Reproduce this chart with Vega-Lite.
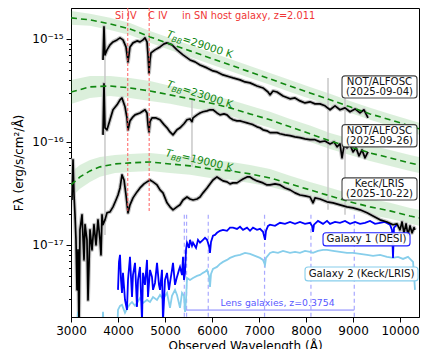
{
"$schema": "https://vega.github.io/schema/vega-lite/v6.json",
"width": 348, "height": 309,
"autosize": {"type": "none"},
"padding": {"left": 71, "top": 8, "right": 2, "bottom": 32},
"background": "white",
"config": {
  "view": {"stroke": "black", "strokeWidth": 1},
  "font": "DejaVu Sans",
  "axis": {"grid": false, "domainColor": "black", "tickColor": "black", "labelColor": "black", "titleColor": "black", "labelFont": "DejaVu Sans", "titleFont": "DejaVu Sans", "titleFontWeight": "normal", "labelFontSize": 12, "titleFontSize": 12}
},
"datasets": {
  "band": [
    {"T":"29000","lam":3000,"f":1.37e-15,"f2":1.87e-15},{"T":"29000","lam":3404,"f":1.34e-15,"f2":1.75e-15},{"T":"29000","lam":3830,"f":1.22e-15,"f2":1.60e-15},{"T":"29000","lam":4255,"f":1.09e-15,"f2":1.43e-15},{"T":"29000","lam":4681,"f":9.15e-16,"f2":1.196e-15},{"T":"29000","lam":5106,"f":7.82e-16,"f2":1.02e-15},{"T":"29000","lam":5532,"f":6.69e-16,"f2":8.74e-16},{"T":"29000","lam":5957,"f":5.72e-16,"f2":7.48e-16},{"T":"29000","lam":6383,"f":4.89e-16,"f2":6.39e-16},{"T":"29000","lam":6809,"f":4.18e-16,"f2":5.46e-16},{"T":"29000","lam":7234,"f":3.58e-16,"f2":4.67e-16},{"T":"29000","lam":7660,"f":3.05e-16,"f2":3.99e-16},{"T":"29000","lam":8085,"f":2.62e-16,"f2":3.42e-16},{"T":"29000","lam":8511,"f":2.24e-16,"f2":2.93e-16},{"T":"29000","lam":8936,"f":1.92e-16,"f2":2.50e-16},{"T":"29000","lam":9362,"f":1.64e-16,"f2":2.14e-16},{"T":"29000","lam":9787,"f":1.43e-16,"f2":1.87e-16},{"T":"29000","lam":10213,"f":1.25e-16,"f2":1.63e-16},{"T":"29000","lam":10404,"f":1.17e-16,"f2":1.53e-16},
    {"T":"23000","lam":3000,"f":2.33e-16,"f2":3.99e-16},{"T":"23000","lam":3404,"f":2.67e-16,"f2":4.37e-16},{"T":"23000","lam":3830,"f":2.79e-16,"f2":4.36e-16},{"T":"23000","lam":4255,"f":2.67e-16,"f2":4.18e-16},{"T":"23000","lam":4681,"f":2.50e-16,"f2":3.90e-16},{"T":"23000","lam":5106,"f":2.34e-16,"f2":3.50e-16},{"T":"23000","lam":5532,"f":2.14e-16,"f2":3.20e-16},{"T":"23000","lam":5957,"f":2.00e-16,"f2":2.86e-16},{"T":"23000","lam":6383,"f":1.79e-16,"f2":2.56e-16},{"T":"23000","lam":6809,"f":1.56e-16,"f2":2.24e-16},{"T":"23000","lam":7234,"f":1.37e-16,"f2":1.96e-16},{"T":"23000","lam":7660,"f":1.17e-16,"f2":1.67e-16},{"T":"23000","lam":8085,"f":1.00e-16,"f2":1.44e-16},{"T":"23000","lam":8511,"f":8.53e-17,"f2":1.22e-16},{"T":"23000","lam":8936,"f":7.47e-17,"f2":1.07e-16},{"T":"23000","lam":9362,"f":6.54e-17,"f2":9.35e-17},{"T":"23000","lam":9787,"f":5.84e-17,"f2":8.36e-17},{"T":"23000","lam":10213,"f":5.23e-17,"f2":7.48e-17},{"T":"23000","lam":10404,"f":5.00e-17,"f2":7.15e-17},
    {"T":"19000","lam":3000,"f":2.86e-17,"f2":5.11e-17},{"T":"19000","lam":3191,"f":3.50e-17,"f2":5.97e-17},{"T":"19000","lam":3404,"f":4.09e-17,"f2":6.69e-17},{"T":"19000","lam":3617,"f":4.58e-17,"f2":7.15e-17},{"T":"19000","lam":3936,"f":5.00e-17,"f2":7.47e-17},{"T":"19000","lam":4255,"f":5.11e-17,"f2":7.64e-17},{"T":"19000","lam":4681,"f":5.23e-17,"f2":7.81e-17},{"T":"19000","lam":5106,"f":5.00e-17,"f2":7.47e-17},{"T":"19000","lam":5532,"f":4.79e-17,"f2":7.15e-17},{"T":"19000","lam":5957,"f":4.47e-17,"f2":6.69e-17},{"T":"19000","lam":6383,"f":4.28e-17,"f2":6.40e-17},{"T":"19000","lam":6809,"f":4.00e-17,"f2":5.98e-17},{"T":"19000","lam":7234,"f":3.66e-17,"f2":5.47e-17},{"T":"19000","lam":7660,"f":3.27e-17,"f2":4.68e-17},{"T":"19000","lam":8085,"f":2.86e-17,"f2":4.09e-17},{"T":"19000","lam":8511,"f":2.50e-17,"f2":3.58e-17},{"T":"19000","lam":8936,"f":2.19e-17,"f2":3.13e-17},{"T":"19000","lam":9362,"f":1.96e-17,"f2":2.80e-17},{"T":"19000","lam":9787,"f":1.79e-17,"f2":2.56e-17},{"T":"19000","lam":10213,"f":1.60e-17,"f2":2.28e-17},{"T":"19000","lam":10404,"f":1.53e-17,"f2":2.19e-17}
  ],
  "bb": [
    {"T":"29000","lam":3000,"f":1.60e-15},{"T":"29000","lam":3404,"f":1.529e-15},{"T":"29000","lam":3830,"f":1.398e-15},{"T":"29000","lam":4255,"f":1.25e-15},{"T":"29000","lam":4681,"f":1.046e-15},{"T":"29000","lam":5106,"f":8.94e-16},{"T":"29000","lam":5532,"f":7.65e-16},{"T":"29000","lam":5957,"f":6.54e-16},{"T":"29000","lam":6383,"f":5.59e-16},{"T":"29000","lam":6809,"f":4.78e-16},{"T":"29000","lam":7234,"f":4.09e-16},{"T":"29000","lam":7660,"f":3.49e-16},{"T":"29000","lam":8085,"f":2.99e-16},{"T":"29000","lam":8511,"f":2.56e-16},{"T":"29000","lam":8936,"f":2.19e-16},{"T":"29000","lam":9362,"f":1.87e-16},{"T":"29000","lam":9787,"f":1.64e-16},{"T":"29000","lam":10213,"f":1.43e-16},{"T":"29000","lam":10404,"f":1.34e-16},
    {"T":"23000","lam":3000,"f":3.05e-16},{"T":"23000","lam":3404,"f":3.42e-16},{"T":"23000","lam":3830,"f":3.49e-16},{"T":"23000","lam":4255,"f":3.34e-16},{"T":"23000","lam":4681,"f":3.12e-16},{"T":"23000","lam":5106,"f":2.86e-16},{"T":"23000","lam":5532,"f":2.62e-16},{"T":"23000","lam":5957,"f":2.39e-16},{"T":"23000","lam":6383,"f":2.14e-16},{"T":"23000","lam":6809,"f":1.87e-16},{"T":"23000","lam":7234,"f":1.64e-16},{"T":"23000","lam":7660,"f":1.40e-16},{"T":"23000","lam":8085,"f":1.20e-16},{"T":"23000","lam":8511,"f":1.02e-16},{"T":"23000","lam":8936,"f":8.94e-17},{"T":"23000","lam":9362,"f":7.82e-17},{"T":"23000","lam":9787,"f":6.99e-17},{"T":"23000","lam":10213,"f":6.25e-17},{"T":"23000","lam":10404,"f":5.98e-17},
    {"T":"19000","lam":3000,"f":3.82e-17},{"T":"19000","lam":3191,"f":4.57e-17},{"T":"19000","lam":3404,"f":5.23e-17},{"T":"19000","lam":3617,"f":5.72e-17},{"T":"19000","lam":3936,"f":6.11e-17},{"T":"19000","lam":4255,"f":6.25e-17},{"T":"19000","lam":4681,"f":6.39e-17},{"T":"19000","lam":5106,"f":6.11e-17},{"T":"19000","lam":5532,"f":5.85e-17},{"T":"19000","lam":5957,"f":5.47e-17},{"T":"19000","lam":6383,"f":5.23e-17},{"T":"19000","lam":6809,"f":4.89e-17},{"T":"19000","lam":7234,"f":4.47e-17},{"T":"19000","lam":7660,"f":3.91e-17},{"T":"19000","lam":8085,"f":3.42e-17},{"T":"19000","lam":8511,"f":2.99e-17},{"T":"19000","lam":8936,"f":2.62e-17},{"T":"19000","lam":9362,"f":2.34e-17},{"T":"19000","lam":9787,"f":2.14e-17},{"T":"19000","lam":10213,"f":1.91e-17},{"T":"19000","lam":10404,"f":1.83e-17}
  ],
  "spec": [
    {"s":"a","lam":3681,"f":6.25e-16},{"s":"a","lam":3702,"f":1.307e-15},{"s":"a","lam":3723,"f":6.99e-16},{"s":"a","lam":3766,"f":7.82e-16},{"s":"a","lam":3830,"f":8.75e-16},{"s":"a","lam":3894,"f":9.35e-16},{"s":"a","lam":3979,"f":9.78e-16},{"s":"a","lam":4043,"f":1.023e-15},{"s":"a","lam":4106,"f":9.78e-16},{"s":"a","lam":4170,"f":8.36e-16},{"s":"a","lam":4213,"f":5.98e-16},{"s":"a","lam":4255,"f":8.36e-16},{"s":"a","lam":4319,"f":9.15e-16},{"s":"a","lam":4404,"f":9.56e-16},{"s":"a","lam":4468,"f":9.35e-16},{"s":"a","lam":4532,"f":9.78e-16},{"s":"a","lam":4574,"f":1.023e-15},{"s":"a","lam":4617,"f":9.35e-16},{"s":"a","lam":4638,"f":6.99e-16},{"s":"a","lam":4660,"f":4.67e-16},{"s":"a","lam":4681,"f":6.25e-16},{"s":"a","lam":4702,"f":7.31e-16},{"s":"a","lam":4787,"f":7.82e-16},{"s":"a","lam":4894,"f":8.36e-16},{"s":"a","lam":4979,"f":8.94e-16},{"s":"a","lam":5043,"f":9.15e-16},{"s":"a","lam":5149,"f":8.75e-16},{"s":"a","lam":5255,"f":7.82e-16},{"s":"a","lam":5383,"f":6.99e-16},{"s":"a","lam":5532,"f":6.25e-16},{"s":"a","lam":5639,"f":5.98e-16},{"s":"a","lam":5745,"f":5.59e-16},{"s":"a","lam":5894,"f":5.23e-16},{"s":"a","lam":6021,"f":4.89e-16},{"s":"a","lam":6106,"f":4.78e-16},{"s":"a","lam":6234,"f":4.47e-16},{"s":"a","lam":6383,"f":4.27e-16},{"s":"a","lam":6447,"f":4.18e-16},{"s":"a","lam":6596,"f":4.00e-16},{"s":"a","lam":6702,"f":3.82e-16},{"s":"a","lam":6809,"f":3.74e-16},{"s":"a","lam":6958,"f":3.49e-16},{"s":"a","lam":7085,"f":3.34e-16},{"s":"a","lam":7192,"f":3.05e-16},{"s":"a","lam":7234,"f":2.86e-16},{"s":"a","lam":7298,"f":3.12e-16},{"s":"a","lam":7383,"f":3.05e-16},{"s":"a","lam":7511,"f":2.79e-16},{"s":"a","lam":7660,"f":2.62e-16},{"s":"a","lam":7766,"f":2.67e-16},{"s":"a","lam":7872,"f":2.50e-16},{"s":"a","lam":7979,"f":2.39e-16},{"s":"a","lam":8085,"f":2.45e-16},{"s":"a","lam":8192,"f":2.34e-16},{"s":"a","lam":8298,"f":2.34e-16},{"s":"a","lam":8404,"f":2.24e-16},{"s":"a","lam":8511,"f":2.05e-16},{"s":"a","lam":8617,"f":2.24e-16},{"s":"a","lam":8723,"f":2.05e-16},{"s":"a","lam":8830,"f":2.14e-16},{"s":"a","lam":8936,"f":1.96e-16},{"s":"a","lam":9043,"f":2.09e-16},{"s":"a","lam":9149,"f":1.91e-16},{"s":"a","lam":9234,"f":2.05e-16},{"s":"a","lam":9319,"f":1.71e-16},
    {"s":"b","lam":3681,"f":1.17e-16},{"s":"b","lam":3702,"f":3.66e-16},{"s":"b","lam":3723,"f":1.37e-16},{"s":"b","lam":3766,"f":1.31e-16},{"s":"b","lam":3830,"f":1.64e-16},{"s":"b","lam":3894,"f":2.05e-16},{"s":"b","lam":3979,"f":2.29e-16},{"s":"b","lam":4043,"f":2.56e-16},{"s":"b","lam":4085,"f":2.67e-16},{"s":"b","lam":4149,"f":2.19e-16},{"s":"b","lam":4191,"f":1.71e-16},{"s":"b","lam":4213,"f":1.31e-16},{"s":"b","lam":4255,"f":1.60e-16},{"s":"b","lam":4319,"f":1.75e-16},{"s":"b","lam":4362,"f":1.83e-16},{"s":"b","lam":4468,"f":1.91e-16},{"s":"b","lam":4574,"f":2.05e-16},{"s":"b","lam":4617,"f":1.91e-16},{"s":"b","lam":4638,"f":1.47e-16},{"s":"b","lam":4660,"f":1.25e-16},{"s":"b","lam":4681,"f":1.57e-16},{"s":"b","lam":4723,"f":1.71e-16},{"s":"b","lam":4809,"f":1.71e-16},{"s":"b","lam":4894,"f":1.64e-16},{"s":"b","lam":4979,"f":1.47e-16},{"s":"b","lam":5043,"f":1.37e-16},{"s":"b","lam":5106,"f":1.25e-16},{"s":"b","lam":5170,"f":1.17e-16},{"s":"b","lam":5255,"f":1.31e-16},{"s":"b","lam":5319,"f":1.37e-16},{"s":"b","lam":5404,"f":1.50e-16},{"s":"b","lam":5468,"f":1.64e-16},{"s":"b","lam":5532,"f":1.67e-16},{"s":"b","lam":5574,"f":1.57e-16},{"s":"b","lam":5596,"f":1.71e-16},{"s":"b","lam":5681,"f":1.83e-16},{"s":"b","lam":5745,"f":1.91e-16},{"s":"b","lam":5809,"f":1.96e-16},{"s":"b","lam":5894,"f":2.00e-16},{"s":"b","lam":5957,"f":2.05e-16},{"s":"b","lam":6021,"f":2.05e-16},{"s":"b","lam":6106,"f":1.91e-16},{"s":"b","lam":6170,"f":1.83e-16},{"s":"b","lam":6255,"f":1.87e-16},{"s":"b","lam":6319,"f":1.83e-16},{"s":"b","lam":6383,"f":1.71e-16},{"s":"b","lam":6447,"f":1.64e-16},{"s":"b","lam":6532,"f":1.60e-16},{"s":"b","lam":6596,"f":1.60e-16},{"s":"b","lam":6660,"f":1.57e-16},{"s":"b","lam":6745,"f":1.53e-16},{"s":"b","lam":6809,"f":1.50e-16},{"s":"b","lam":6872,"f":1.47e-16},{"s":"b","lam":6958,"f":1.40e-16},{"s":"b","lam":7021,"f":1.37e-16},{"s":"b","lam":7085,"f":1.31e-16},{"s":"b","lam":7170,"f":1.28e-16},{"s":"b","lam":7234,"f":1.23e-16},{"s":"b","lam":7298,"f":1.23e-16},{"s":"b","lam":7383,"f":1.23e-16},{"s":"b","lam":7447,"f":1.20e-16},{"s":"b","lam":7553,"f":1.17e-16},{"s":"b","lam":7660,"f":1.15e-16},{"s":"b","lam":7766,"f":1.12e-16},{"s":"b","lam":7872,"f":1.10e-16},{"s":"b","lam":7979,"f":1.07e-16},{"s":"b","lam":8085,"f":1.05e-16},{"s":"b","lam":8192,"f":1.05e-16},{"s":"b","lam":8298,"f":1.00e-16},{"s":"b","lam":8404,"f":1.02e-16},{"s":"b","lam":8511,"f":9.56e-17},{"s":"b","lam":8596,"f":1.00e-16},{"s":"b","lam":8660,"f":8.94e-17},{"s":"b","lam":8723,"f":9.56e-17},{"s":"b","lam":8766,"f":6.99e-17},{"s":"b","lam":8809,"f":9.15e-17},{"s":"b","lam":8872,"f":8.75e-17},{"s":"b","lam":8936,"f":9.35e-17},{"s":"b","lam":9000,"f":8.00e-17},{"s":"b","lam":9064,"f":8.75e-17},{"s":"b","lam":9128,"f":7.31e-17},{"s":"b","lam":9192,"f":8.36e-17},{"s":"b","lam":9255,"f":6.99e-17},{"s":"b","lam":9319,"f":8.00e-17},
    {"s":"c","lam":3021,"f":2.73e-17},{"s":"c","lam":3043,"f":6.69e-17},{"s":"c","lam":3064,"f":3.05e-17},{"s":"c","lam":3085,"f":1.96e-17},{"s":"c","lam":3106,"f":1.12e-17},{"s":"c","lam":3128,"f":3.66e-18},{"s":"c","lam":3149,"f":8.94e-18},{"s":"c","lam":3170,"f":1.5e-18},{"s":"c","lam":3191,"f":1.40e-17},{"s":"c","lam":3234,"f":1.96e-17},{"s":"c","lam":3277,"f":7.15e-18},{"s":"c","lam":3298,"f":1.57e-17},{"s":"c","lam":3340,"f":1.12e-17},{"s":"c","lam":3362,"f":2.92e-18},{"s":"c","lam":3404,"f":1.40e-17},{"s":"c","lam":3447,"f":8.94e-18},{"s":"c","lam":3489,"f":1.57e-17},{"s":"c","lam":3532,"f":1.00e-17},{"s":"c","lam":3574,"f":1.75e-17},{"s":"c","lam":3617,"f":1.12e-17},{"s":"c","lam":3638,"f":8.00e-18},{"s":"c","lam":3660,"f":1.96e-17},{"s":"c","lam":3681,"f":1.57e-17},{"s":"c","lam":3723,"f":1.75e-17},{"s":"c","lam":3766,"f":2.05e-17},{"s":"c","lam":3830,"f":2.09e-17},{"s":"c","lam":3894,"f":2.34e-17},{"s":"c","lam":3957,"f":2.73e-17},{"s":"c","lam":4000,"f":3.05e-17},{"s":"c","lam":4043,"f":3.57e-17},{"s":"c","lam":4085,"f":4.78e-17},{"s":"c","lam":4128,"f":4.27e-17},{"s":"c","lam":4170,"f":3.05e-17},{"s":"c","lam":4213,"f":2.05e-17},{"s":"c","lam":4255,"f":2.45e-17},{"s":"c","lam":4319,"f":2.86e-17},{"s":"c","lam":4404,"f":3.27e-17},{"s":"c","lam":4468,"f":3.57e-17},{"s":"c","lam":4553,"f":3.91e-17},{"s":"c","lam":4617,"f":4.09e-17},{"s":"c","lam":4681,"f":4.27e-17},{"s":"c","lam":4745,"f":4.09e-17},{"s":"c","lam":4830,"f":3.82e-17},{"s":"c","lam":4894,"f":3.42e-17},{"s":"c","lam":4957,"f":3.20e-17},{"s":"c","lam":5043,"f":2.56e-17},{"s":"c","lam":5106,"f":2.34e-17},{"s":"c","lam":5170,"f":2.19e-17},{"s":"c","lam":5255,"f":2.34e-17},{"s":"c","lam":5319,"f":2.45e-17},{"s":"c","lam":5383,"f":2.73e-17},{"s":"c","lam":5468,"f":2.92e-17},{"s":"c","lam":5532,"f":2.79e-17},{"s":"c","lam":5596,"f":2.73e-17},{"s":"c","lam":5681,"f":2.79e-17},{"s":"c","lam":5745,"f":2.92e-17},{"s":"c","lam":5809,"f":3.20e-17},{"s":"c","lam":5894,"f":3.57e-17},{"s":"c","lam":5957,"f":3.91e-17},{"s":"c","lam":6021,"f":4.27e-17},{"s":"c","lam":6106,"f":4.57e-17},{"s":"c","lam":6170,"f":4.37e-17},{"s":"c","lam":6234,"f":4.18e-17},{"s":"c","lam":6319,"f":4.09e-17},{"s":"c","lam":6383,"f":3.91e-17},{"s":"c","lam":6447,"f":4.00e-17},{"s":"c","lam":6532,"f":4.00e-17},{"s":"c","lam":6596,"f":4.18e-17},{"s":"c","lam":6660,"f":4.37e-17},{"s":"c","lam":6745,"f":4.57e-17},{"s":"c","lam":6809,"f":4.57e-17},{"s":"c","lam":6872,"f":4.37e-17},{"s":"c","lam":6958,"f":4.18e-17},{"s":"c","lam":7021,"f":4.09e-17},{"s":"c","lam":7085,"f":4.00e-17},{"s":"c","lam":7170,"f":3.82e-17},{"s":"c","lam":7234,"f":3.82e-17},{"s":"c","lam":7340,"f":3.91e-17},{"s":"c","lam":7447,"f":3.82e-17},{"s":"c","lam":7553,"f":3.57e-17},{"s":"c","lam":7660,"f":3.42e-17},{"s":"c","lam":7766,"f":3.20e-17},{"s":"c","lam":7872,"f":3.05e-17},{"s":"c","lam":7979,"f":2.99e-17},{"s":"c","lam":8085,"f":2.92e-17},{"s":"c","lam":8149,"f":2.56e-17},{"s":"c","lam":8192,"f":2.86e-17},{"s":"c","lam":8298,"f":2.79e-17},{"s":"c","lam":8447,"f":2.62e-17},{"s":"c","lam":8575,"f":2.56e-17},{"s":"c","lam":8723,"f":2.45e-17},{"s":"c","lam":8872,"f":2.34e-17},{"s":"c","lam":9000,"f":2.29e-17},{"s":"c","lam":9149,"f":2.19e-17},{"s":"c","lam":9298,"f":2.05e-17},{"s":"c","lam":9426,"f":1.91e-17},{"s":"c","lam":9575,"f":1.75e-17},{"s":"c","lam":9723,"f":1.67e-17},{"s":"c","lam":9851,"f":1.57e-17},{"s":"c","lam":9936,"f":1.60e-17},{"s":"c","lam":10000,"f":1.40e-17},{"s":"c","lam":10043,"f":1.67e-17},{"s":"c","lam":10085,"f":1.31e-17},{"s":"c","lam":10128,"f":1.60e-17},{"s":"c","lam":10170,"f":1.25e-17},{"s":"c","lam":10213,"f":1.53e-17},{"s":"c","lam":10255,"f":1.31e-17},{"s":"c","lam":10298,"f":1.47e-17},{"s":"c","lam":10319,"f":1.40e-17}
  ],
  "gal": [
    {"g":"G1","lam":4000,"f":3.66e-18},{"g":"G1","lam":4021,"f":6.84e-18},{"g":"G1","lam":4043,"f":8.00e-18},{"g":"G1","lam":4064,"f":4.57e-18},{"g":"G1","lam":4085,"f":3.42e-18},{"g":"G1","lam":4106,"f":5.35e-18},{"g":"G1","lam":4149,"f":2.92e-18},{"g":"G1","lam":4191,"f":2.34e-18},{"g":"G1","lam":4213,"f":4.57e-18},{"g":"G1","lam":4255,"f":7.65e-18},{"g":"G1","lam":4298,"f":3.12e-18},{"g":"G1","lam":4319,"f":5.11e-18},{"g":"G1","lam":4362,"f":6.69e-18},{"g":"G1","lam":4404,"f":2.50e-18},{"g":"G1","lam":4426,"f":4.57e-18},{"g":"G1","lam":4468,"f":6.11e-18},{"g":"G1","lam":4511,"f":1.8e-18},{"g":"G1","lam":4532,"f":5.35e-18},{"g":"G1","lam":4574,"f":4.09e-18},{"g":"G1","lam":4617,"f":7.15e-18},{"g":"G1","lam":4638,"f":3.12e-18},{"g":"G1","lam":4681,"f":5.72e-18},{"g":"G1","lam":4723,"f":4.89e-18},{"g":"G1","lam":4745,"f":3.66e-18},{"g":"G1","lam":4787,"f":4.27e-18},{"g":"G1","lam":4830,"f":6.69e-18},{"g":"G1","lam":4872,"f":4.09e-18},{"g":"G1","lam":4894,"f":3.66e-18},{"g":"G1","lam":4936,"f":5.72e-18},{"g":"G1","lam":4957,"f":1.8e-18},{"g":"G1","lam":5000,"f":4.57e-18},{"g":"G1","lam":5043,"f":5.35e-18},{"g":"G1","lam":5085,"f":3.66e-18},{"g":"G1","lam":5106,"f":4.27e-18},{"g":"G1","lam":5149,"f":5.72e-18},{"g":"G1","lam":5170,"f":6.69e-18},{"g":"G1","lam":5213,"f":4.09e-18},{"g":"G1","lam":5255,"f":4.89e-18},{"g":"G1","lam":5298,"f":5.72e-18},{"g":"G1","lam":5319,"f":6.11e-18},{"g":"G1","lam":5362,"f":5.11e-18},{"g":"G1","lam":5383,"f":7.65e-18},{"g":"G1","lam":5404,"f":4.57e-18},{"g":"G1","lam":5426,"f":5.35e-18},{"g":"G1","lam":5447,"f":8.94e-18},{"g":"G1","lam":5468,"f":1.05e-17},{"g":"G1","lam":5511,"f":9.35e-18},{"g":"G1","lam":5532,"f":1.12e-17},{"g":"G1","lam":5574,"f":9.78e-18},{"g":"G1","lam":5596,"f":1.05e-17},{"g":"G1","lam":5660,"f":9.35e-18},{"g":"G1","lam":5702,"f":1.12e-17},{"g":"G1","lam":5745,"f":1.05e-17},{"g":"G1","lam":5809,"f":1.12e-17},{"g":"G1","lam":5851,"f":1.17e-17},{"g":"G1","lam":5894,"f":1.12e-17},{"g":"G1","lam":5936,"f":9.78e-18},{"g":"G1","lam":5957,"f":8.36e-18},{"g":"G1","lam":5979,"f":1.07e-17},{"g":"G1","lam":6021,"f":1.23e-17},{"g":"G1","lam":6064,"f":1.25e-17},{"g":"G1","lam":6106,"f":1.31e-17},{"g":"G1","lam":6170,"f":1.37e-17},{"g":"G1","lam":6234,"f":1.40e-17},{"g":"G1","lam":6319,"f":1.37e-17},{"g":"G1","lam":6383,"f":1.47e-17},{"g":"G1","lam":6447,"f":1.47e-17},{"g":"G1","lam":6532,"f":1.43e-17},{"g":"G1","lam":6596,"f":1.50e-17},{"g":"G1","lam":6660,"f":1.40e-17},{"g":"G1","lam":6745,"f":1.47e-17},{"g":"G1","lam":6809,"f":1.37e-17},{"g":"G1","lam":6872,"f":1.47e-17},{"g":"G1","lam":6958,"f":1.40e-17},{"g":"G1","lam":7021,"f":1.43e-17},{"g":"G1","lam":7085,"f":1.34e-17},{"g":"G1","lam":7128,"f":1.12e-17},{"g":"G1","lam":7149,"f":1.37e-17},{"g":"G1","lam":7192,"f":1.53e-17},{"g":"G1","lam":7234,"f":1.57e-17},{"g":"G1","lam":7340,"f":1.53e-17},{"g":"G1","lam":7447,"f":1.64e-17},{"g":"G1","lam":7553,"f":1.60e-17},{"g":"G1","lam":7660,"f":1.67e-17},{"g":"G1","lam":7766,"f":1.60e-17},{"g":"G1","lam":7872,"f":1.67e-17},{"g":"G1","lam":7979,"f":1.60e-17},{"g":"G1","lam":8085,"f":1.64e-17},{"g":"G1","lam":8128,"f":1.53e-17},{"g":"G1","lam":8149,"f":1.34e-17},{"g":"G1","lam":8170,"f":1.57e-17},{"g":"G1","lam":8255,"f":1.71e-17},{"g":"G1","lam":8362,"f":1.60e-17},{"g":"G1","lam":8447,"f":1.71e-17},{"g":"G1","lam":8511,"f":1.60e-17},{"g":"G1","lam":8617,"f":1.67e-17},{"g":"G1","lam":8723,"f":1.64e-17},{"g":"G1","lam":8830,"f":1.71e-17},{"g":"G1","lam":8936,"f":1.60e-17},{"g":"G1","lam":9043,"f":1.67e-17},{"g":"G1","lam":9149,"f":1.60e-17},{"g":"G1","lam":9255,"f":1.64e-17},{"g":"G1","lam":9362,"f":1.71e-17},{"g":"G1","lam":9468,"f":1.60e-17},{"g":"G1","lam":9575,"f":1.64e-17},{"g":"G1","lam":9681,"f":1.67e-17},{"g":"G1","lam":9787,"f":1.57e-17},{"g":"G1","lam":9830,"f":1.40e-17},{"g":"G1","lam":9851,"f":7.48e-18},{"g":"G1","lam":9872,"f":1.47e-17},{"g":"G1","lam":9936,"f":1.57e-17},
    {"g":"G2","lam":3106,"f":1.3e-18},{"g":"G2","lam":3149,"f":2.24e-18},{"g":"G2","lam":3191,"f":1.3e-18},{"g":"G2","lam":3660,"f":1.3e-18},{"g":"G2","lam":3681,"f":2.24e-18},{"g":"G2","lam":3702,"f":1.3e-18},{"g":"G2","lam":3979,"f":1.3e-18},{"g":"G2","lam":4000,"f":2.34e-18},{"g":"G2","lam":4043,"f":2.56e-18},{"g":"G2","lam":4085,"f":2.62e-18},{"g":"G2","lam":4149,"f":2.19e-18},{"g":"G2","lam":4213,"f":2.50e-18},{"g":"G2","lam":4255,"f":2.67e-18},{"g":"G2","lam":4298,"f":2.79e-18},{"g":"G2","lam":4362,"f":2.56e-18},{"g":"G2","lam":4404,"f":2.73e-18},{"g":"G2","lam":4468,"f":3.05e-18},{"g":"G2","lam":4532,"f":2.73e-18},{"g":"G2","lam":4617,"f":2.92e-18},{"g":"G2","lam":4681,"f":2.79e-18},{"g":"G2","lam":4745,"f":3.12e-18},{"g":"G2","lam":4830,"f":2.92e-18},{"g":"G2","lam":4894,"f":3.27e-18},{"g":"G2","lam":4957,"f":2.99e-18},{"g":"G2","lam":5043,"f":3.42e-18},{"g":"G2","lam":5106,"f":2.45e-18},{"g":"G2","lam":5149,"f":3.20e-18},{"g":"G2","lam":5213,"f":3.66e-18},{"g":"G2","lam":5255,"f":3.27e-18},{"g":"G2","lam":5319,"f":2.45e-18},{"g":"G2","lam":5362,"f":3.42e-18},{"g":"G2","lam":5404,"f":3.20e-18},{"g":"G2","lam":5426,"f":2.24e-18},{"g":"G2","lam":5447,"f":2.92e-18},{"g":"G2","lam":5468,"f":4.78e-18},{"g":"G2","lam":5532,"f":4.57e-18},{"g":"G2","lam":5596,"f":4.78e-18},{"g":"G2","lam":5681,"f":5.00e-18},{"g":"G2","lam":5745,"f":5.11e-18},{"g":"G2","lam":5809,"f":5.35e-18},{"g":"G2","lam":5851,"f":5.47e-18},{"g":"G2","lam":5894,"f":5.72e-18},{"g":"G2","lam":5936,"f":5.00e-18},{"g":"G2","lam":5957,"f":3.91e-18},{"g":"G2","lam":5979,"f":5.23e-18},{"g":"G2","lam":6021,"f":5.85e-18},{"g":"G2","lam":6106,"f":6.11e-18},{"g":"G2","lam":6170,"f":6.54e-18},{"g":"G2","lam":6234,"f":6.84e-18},{"g":"G2","lam":6319,"f":7.15e-18},{"g":"G2","lam":6383,"f":7.48e-18},{"g":"G2","lam":6489,"f":7.82e-18},{"g":"G2","lam":6596,"f":8.00e-18},{"g":"G2","lam":6702,"f":8.36e-18},{"g":"G2","lam":6809,"f":8.18e-18},{"g":"G2","lam":6915,"f":7.82e-18},{"g":"G2","lam":7021,"f":7.48e-18},{"g":"G2","lam":7085,"f":7.15e-18},{"g":"G2","lam":7128,"f":6.39e-18},{"g":"G2","lam":7149,"f":7.48e-18},{"g":"G2","lam":7234,"f":8.36e-18},{"g":"G2","lam":7298,"f":8.55e-18},{"g":"G2","lam":7404,"f":8.36e-18},{"g":"G2","lam":7511,"f":8.75e-18},{"g":"G2","lam":7660,"f":8.36e-18},{"g":"G2","lam":7766,"f":8.55e-18},{"g":"G2","lam":7872,"f":8.36e-18},{"g":"G2","lam":7979,"f":8.75e-18},{"g":"G2","lam":8085,"f":8.55e-18},{"g":"G2","lam":8149,"f":8.36e-18},{"g":"G2","lam":8255,"f":8.75e-18},{"g":"G2","lam":8362,"f":8.94e-18},{"g":"G2","lam":8447,"f":8.94e-18},{"g":"G2","lam":8575,"f":8.75e-18},{"g":"G2","lam":8723,"f":8.55e-18},{"g":"G2","lam":8872,"f":8.36e-18},{"g":"G2","lam":9000,"f":8.36e-18},{"g":"G2","lam":9149,"f":8.18e-18},{"g":"G2","lam":9298,"f":8.00e-18},{"g":"G2","lam":9426,"f":7.82e-18},{"g":"G2","lam":9575,"f":8.00e-18},{"g":"G2","lam":9723,"f":7.65e-18},{"g":"G2","lam":9851,"f":7.48e-18},{"g":"G2","lam":9957,"f":7.65e-18},{"g":"G2","lam":10064,"f":7.31e-18},{"g":"G2","lam":10170,"f":7.65e-18},{"g":"G2","lam":10234,"f":7.15e-18},{"g":"G2","lam":10277,"f":6.84e-18},{"g":"G2","lam":10298,"f":5.11e-18},{"g":"G2","lam":10319,"f":3.66e-18}
  ],
  "spikes": [
    {"lam":3723,"f":1.223e-15,"f2":1.25e-17},{"lam":5574,"f":2.67e-16,"f2":5.72e-17},{"lam":8468,"f":4.18e-16,"f2":2.19e-17},{"lam":8830,"f":3.34e-16,"f2":1.96e-17}
  ],
  "redlines": [{"lam":4206,"f":1.995e-15,"f2":2.04e-17},{"lam":4664,"f":1.995e-15,"f2":2.04e-17}],
  "lenslines": [{"lam":5411,"f":1.96e-17,"f2":1.995e-18},{"lam":5459,"f":1.96e-17,"f2":1.995e-18},{"lam":5920,"f":1.96e-17,"f2":1.995e-18},{"lam":7118,"f":1.96e-17,"f2":1.995e-18},{"lam":8105,"f":1.96e-17,"f2":1.995e-18},{"lam":9027,"f":1.96e-17,"f2":1.995e-18}],
  "bracket": [{"lam":5411,"lam2":9027,"f":2.33e-18}],
  "bblabels": [{"T":"29000","lam":5021,"f":1.046e-15,"rest":"=29000 K"},{"T":"23000","lam":5021,"f":3.42e-16,"rest":"=23000 K"},{"T":"19000","lam":5000,"f":7.31e-17,"rest":"=19000 K"}],
  "redtext": [{"t":"Si IV","lam":3936,"f":1.56e-15},{"t":"C IV","lam":4638,"f":1.56e-15},{"t":"in SN host galaxy, z=2.011","lam":5362,"f":1.56e-15}],
  "lenstext": [{"t":"Lens galaxies, z=0.3754","lam":7394,"f":2.56e-18}],
  "boxes": [
    {"g":"spec","lam":8766,"lam2":10362,"f":4.37e-16,"f2":2.67e-16},
    {"g":"spec","lam":8766,"lam2":10362,"f":1.47e-16,"f2":8.94e-17},
    {"g":"spec","lam":8766,"lam2":10362,"f":4.47e-17,"f2":2.73e-17},
    {"g":"G1","lam":8362,"lam2":10213,"f":1.31e-17,"f2":9.78e-18},
    {"g":"G2","lam":7979,"lam2":10383,"f":6.11e-18,"f2":4.47e-18}
  ],
  "boxtext": [
    {"t":"NOT/ALFOSC\n(2025-09-04)","lam":9564,"f":3.84e-16},
    {"t":"NOT/ALFOSC\n(2025-09-26)","lam":9564,"f":1.29e-16},
    {"t":"Keck/LRIS\n(2025-10-22)","lam":9564,"f":3.93e-17},
    {"t":"Galaxy 1 (DESI)","lam":9288,"f":1.135e-17},
    {"t":"Galaxy 2 (Keck/LRIS)","lam":9181,"f":5.23e-18}
  ]
},
"encoding": {
  "x": {"field": "lam", "type": "quantitative",
        "scale": {"domain": [3000, 10404], "nice": false, "zero": false},
        "axis": {"values": [3000,4000,5000,6000,7000,8000,9000,10000], "format": "d", "tickSize": 5, "labelPadding": 3, "title": "Observed Wavelength (Å)", "titlePadding": 4, "labelFlush": false}},
  "y": {"field": "f", "type": "quantitative",
        "scale": {"type": "log", "domain": [1.995e-18, 1.995e-15], "nice": false},
        "axis": {"values": [3e-18,4e-18,5e-18,6e-18,7e-18,8e-18,9e-18,1e-17,2e-17,3e-17,4e-17,5e-17,6e-17,7e-17,8e-17,9e-17,1e-16,2e-16,3e-16,4e-16,5e-16,6e-16,7e-16,8e-16,9e-16,1e-15],
                 "labelExpr": "abs(log(datum.value)/LN10 - round(log(datum.value)/LN10)) < 0.001 ? (round(log(datum.value)/LN10) == -15 ? '10⁻¹⁵' : round(log(datum.value)/LN10) == -16 ? '10⁻¹⁶' : '10⁻¹⁷') : ''",
                 "tickSize": {"condition": {"test": "abs(log(datum.value)/LN10 - round(log(datum.value)/LN10)) < 0.001", "value": 5}, "value": 2.5},
                 "labelPadding": 3, "title": "Fλ (erg/s/cm²/Å)", "titlePadding": 6}}
},
"layer": [
  {"data": {"name": "band"}, "mark": {"type": "area", "color": "#2ca02c", "opacity": 0.17, "clip": true},
   "encoding": {"y2": {"field": "f2"}, "detail": {"field": "T"}}},
  {"data": {"name": "spikes"}, "mark": {"type": "rule", "color": "#c8c8c8", "strokeWidth": 1.5, "clip": true},
   "encoding": {"y2": {"field": "f2"}}},
  {"data": {"name": "spec"}, "mark": {"type": "line", "color": "#c4c4c4", "strokeWidth": 4, "strokeJoin": "round", "clip": true},
   "encoding": {"detail": {"field": "s"}}},
  {"data": {"name": "lenslines"}, "mark": {"type": "rule", "color": "#7070ff", "opacity": 0.6, "strokeWidth": 1.2, "strokeDash": [4, 3], "clip": true},
   "encoding": {"y2": {"field": "f2"}}},
  {"data": {"name": "bracket"}, "mark": {"type": "rule", "color": "#8080ff", "strokeWidth": 1, "clip": true},
   "encoding": {"x2": {"field": "lam2"}}},
  {"data": {"name": "gal"}, "transform": [{"filter": "datum.g == 'G2'"}], "mark": {"type": "line", "color": "#87ceeb", "strokeWidth": 1.8, "clip": true}},
  {"data": {"name": "gal"}, "transform": [{"filter": "datum.g == 'G1'"}], "mark": {"type": "line", "color": "#0000ff", "strokeWidth": 1.8, "clip": true}},
  {"data": {"name": "spec"}, "mark": {"type": "line", "color": "black", "strokeWidth": 1.7, "strokeJoin": "round", "clip": true},
   "encoding": {"detail": {"field": "s"}}},
  {"data": {"name": "redlines"}, "mark": {"type": "rule", "color": "#ff5050", "opacity": 0.7, "strokeWidth": 1.3, "strokeDash": [3, 2], "clip": true},
   "encoding": {"y2": {"field": "f2"}}},
  {"data": {"name": "bb"}, "mark": {"type": "line", "color": "#118811", "strokeWidth": 1.6, "strokeDash": [6, 4], "clip": true},
   "encoding": {"detail": {"field": "T"}}},
  {"data": {"name": "bblabels"}, "transform": [{"filter": "datum.T != '19000'"}],
   "mark": {"type": "text", "text": "T", "font": "DejaVu Sans", "fontStyle": "italic", "fontSize": 10.5, "color": "#118811", "angle": 18, "align": "left", "baseline": "alphabetic"}},
  {"data": {"name": "bblabels"}, "transform": [{"filter": "datum.T != '19000'"}],
   "mark": {"type": "text", "text": "BB", "font": "DejaVu Sans", "fontStyle": "italic", "fontSize": 7.5, "color": "#118811", "angle": 18, "align": "left", "baseline": "alphabetic", "dx": 6.2, "dy": 2.5}},
  {"data": {"name": "bblabels"}, "transform": [{"filter": "datum.T != '19000'"}],
   "mark": {"type": "text", "font": "DejaVu Sans", "fontSize": 10.5, "color": "#118811", "angle": 18, "align": "left", "baseline": "alphabetic", "dx": 16.5},
   "encoding": {"text": {"field": "rest"}}},
  {"data": {"name": "bblabels"}, "transform": [{"filter": "datum.T == '19000'"}],
   "mark": {"type": "text", "text": "T", "font": "DejaVu Sans", "fontStyle": "italic", "fontSize": 10.5, "color": "#118811", "angle": 13, "align": "left", "baseline": "alphabetic"}},
  {"data": {"name": "bblabels"}, "transform": [{"filter": "datum.T == '19000'"}],
   "mark": {"type": "text", "text": "BB", "font": "DejaVu Sans", "fontStyle": "italic", "fontSize": 7.5, "color": "#118811", "angle": 13, "align": "left", "baseline": "alphabetic", "dx": 6.2, "dy": 2.5}},
  {"data": {"name": "bblabels"}, "transform": [{"filter": "datum.T == '19000'"}],
   "mark": {"type": "text", "font": "DejaVu Sans", "fontSize": 10.5, "color": "#118811", "angle": 13, "align": "left", "baseline": "alphabetic", "dx": 16.5},
   "encoding": {"text": {"field": "rest"}}},
  {"data": {"name": "redtext"}, "mark": {"type": "text", "font": "DejaVu Sans", "fontSize": 9.8, "color": "#f03535", "align": "left", "baseline": "alphabetic"},
   "encoding": {"text": {"field": "t"}}},
  {"data": {"name": "lenstext"}, "mark": {"type": "text", "font": "DejaVu Sans", "fontSize": 9.3, "color": "#3a3aff", "opacity": 0.85, "align": "center", "baseline": "alphabetic"},
   "encoding": {"text": {"field": "t"}}},
  {"data": {"name": "boxes"}, "mark": {"type": "rect", "fill": "white", "fillOpacity": 0.92, "strokeWidth": 1.1, "cornerRadius": 3, "clip": true},
   "encoding": {"x2": {"field": "lam2"}, "y2": {"field": "f2"},
                "stroke": {"field": "g", "type": "nominal", "scale": {"domain": ["spec", "G1", "G2"], "range": ["#444444", "#2020ff", "#87ceeb"]}, "legend": null}}},
  {"data": {"name": "boxtext"}, "mark": {"type": "text", "font": "DejaVu Sans", "fontSize": 10.2, "lineHeight": 10.5, "lineBreak": "\n", "color": "#111111", "align": "center", "baseline": "middle"},
   "encoding": {"text": {"field": "t"}}}
]
}
